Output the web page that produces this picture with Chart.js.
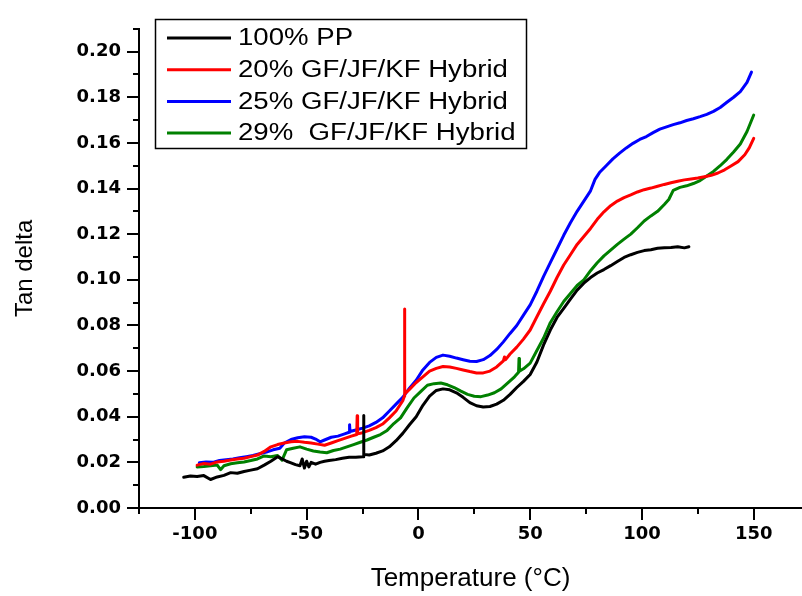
<!DOCTYPE html>
<html><head><meta charset="utf-8">
<script src="https://cdn.jsdelivr.net/npm/chart.js@4.4.1/dist/chart.umd.min.js"></script>
<style>html,body{margin:0;padding:0;background:#fff;}canvas{display:block;}</style>
</head><body>
<canvas id="c" width="802" height="596"></canvas>
<script>
const seriesLabels = ["100% PP", "20% GF/JF/KF Hybrid", "25% GF/JF/KF Hybrid", "29%  GF/JF/KF Hybrid"];
const seriesColors = ["#000000", "#ff0000", "#0000ff", "#008000"];

// [temperature °C, tan delta]
const pp = [[-105,0.0135],[-102,0.0140],[-99,0.0138],[-96,0.0142],[-93,0.0125],[-90,0.0136],[-87,0.0143],[-84,0.0155],[-81,0.0152],[-78,0.0160],[-75,0.0166],[-72,0.0172],[-69,0.0188],[-66,0.0205],[-63,0.0225],[-61,0.0215],[-59,0.0205],[-57,0.0198],[-55,0.0190],[-53,0.0185],[-52,0.0215],[-51,0.0175],[-50,0.0205],[-49,0.0180],[-48,0.0200],[-46,0.0192],[-44,0.0200],[-42,0.0205],[-40,0.0208],[-37,0.0212],[-34,0.0218],[-31,0.0222],[-28,0.0222],[-25,0.0225],[-24.6,0.0225],[-24.5,0.0405],[-24.4,0.0235],[-22,0.0232],[-19,0.0240],[-16,0.0250],[-13,0.0268],[-10,0.0295],[-7,0.0327],[-4,0.0365],[-1,0.0400],[2,0.0450],[5,0.0490],[8,0.0515],[11,0.0522],[14,0.0518],[17,0.0505],[20,0.0485],[23,0.0462],[26,0.0448],[29,0.0443],[32,0.0445],[35,0.0455],[38,0.0472],[41,0.0498],[44,0.0528],[47,0.0555],[50,0.0585],[53,0.0640],[56,0.0715],[59,0.0780],[62,0.0835],[65,0.0875],[68,0.0915],[71,0.0955],[74,0.0985],[77,0.1010],[80,0.1030],[83,0.1045],[86,0.1062],[89,0.1080],[92,0.1098],[95,0.1110],[98,0.1120],[101,0.1128],[104,0.1132],[107,0.1138],[110,0.1140],[113,0.1142],[116,0.1145],[119,0.1140],[121,0.1145]];

const hybrid20 = [[-99,0.0188],[-96,0.0195],[-93,0.0192],[-90,0.0202],[-87,0.0205],[-84,0.0210],[-81,0.0215],[-78,0.0218],[-75,0.0225],[-72,0.0232],[-69,0.0248],[-66,0.0268],[-63,0.0278],[-60,0.0285],[-57,0.0290],[-54,0.0292],[-51,0.0288],[-48,0.0285],[-45,0.0280],[-42,0.0275],[-39,0.0285],[-36,0.0295],[-33,0.0305],[-30,0.0315],[-27.6,0.0322],[-27.4,0.0404],[-27.2,0.0325],[-25,0.0330],[-22,0.0340],[-19,0.0352],[-16,0.0368],[-13,0.0395],[-10,0.0425],[-7,0.0470],[-6.3,0.0490],[-6.2,0.0872],[-6.1,0.0500],[-4,0.0520],[-1,0.0550],[2,0.0575],[5,0.0600],[8,0.0612],[11,0.0620],[14,0.0618],[17,0.0612],[20,0.0605],[23,0.0598],[26,0.0592],[29,0.0592],[32,0.0600],[35,0.0618],[38,0.0645],[38.5,0.0662],[39,0.0650],[41,0.0675],[44,0.0705],[47,0.0740],[50,0.0780],[53,0.0838],[56,0.0895],[59,0.0950],[62,0.1010],[65,0.1065],[68,0.1110],[71,0.1155],[74,0.1190],[77,0.1225],[80,0.1265],[83,0.1298],[86,0.1325],[89,0.1345],[92,0.1360],[95,0.1372],[98,0.1385],[101,0.1395],[104,0.1402],[107,0.1410],[110,0.1418],[113,0.1425],[116,0.1432],[119,0.1438],[122,0.1442],[125,0.1446],[128,0.1452],[131,0.1458],[134,0.1468],[137,0.1482],[140,0.1500],[143,0.1518],[146,0.1548],[148,0.1578],[150,0.1620]];

const hybrid25 = [[-98,0.0198],[-95,0.0202],[-92,0.0200],[-89,0.0208],[-86,0.0212],[-83,0.0215],[-80,0.0220],[-77,0.0225],[-74,0.0230],[-71,0.0238],[-68,0.0245],[-65,0.0255],[-62,0.0262],[-60,0.0285],[-57,0.0300],[-54,0.0308],[-51,0.0312],[-48,0.0310],[-46,0.0302],[-44,0.0290],[-42,0.0298],[-39,0.0310],[-36,0.0315],[-33,0.0325],[-31,0.0332],[-30.8,0.0365],[-30.6,0.0335],[-28,0.0342],[-25,0.0350],[-22,0.0360],[-19,0.0375],[-16,0.0395],[-13,0.0425],[-10,0.0455],[-7,0.0485],[-4,0.0525],[-1,0.0560],[2,0.0605],[5,0.0638],[8,0.0660],[11,0.0670],[14,0.0665],[17,0.0657],[20,0.0650],[23,0.0643],[26,0.0642],[29,0.0650],[32,0.0668],[35,0.0695],[38,0.0728],[41,0.0765],[44,0.0800],[47,0.0845],[50,0.0890],[53,0.0950],[56,0.1015],[59,0.1075],[62,0.1135],[65,0.1195],[68,0.1250],[71,0.1300],[74,0.1345],[77,0.1390],[79,0.1440],[81,0.1470],[84,0.1500],[87,0.1530],[90,0.1555],[93,0.1578],[96,0.1598],[99,0.1615],[102,0.1628],[105,0.1645],[108,0.1660],[111,0.1670],[114,0.1680],[117,0.1688],[120,0.1698],[123,0.1706],[126,0.1715],[129,0.1725],[132,0.1738],[135,0.1755],[138,0.1778],[141,0.1800],[144,0.1825],[147,0.1865],[149,0.1910]];

const hybrid29 = [[-99,0.0180],[-96,0.0182],[-93,0.0185],[-90,0.0188],[-88.5,0.0168],[-87,0.0185],[-84,0.0194],[-81,0.0198],[-78,0.0202],[-75,0.0208],[-72,0.0215],[-69,0.0228],[-66,0.0225],[-63,0.0230],[-61,0.0210],[-59,0.0255],[-56,0.0262],[-53,0.0268],[-50,0.0258],[-47,0.0250],[-44,0.0245],[-41,0.0242],[-38,0.0252],[-35,0.0258],[-32,0.0268],[-29,0.0278],[-26,0.0288],[-23,0.0298],[-20,0.0310],[-17,0.0322],[-14,0.0340],[-11,0.0370],[-8,0.0395],[-5,0.0440],[-2,0.0482],[1,0.0510],[4,0.0538],[7,0.0545],[10,0.0548],[13,0.0540],[16,0.0528],[19,0.0512],[22,0.0498],[25,0.0490],[28,0.0488],[31,0.0495],[34,0.0505],[37,0.0522],[40,0.0548],[43,0.0575],[44.8,0.0595],[45,0.0655],[45.2,0.0600],[47,0.0610],[50,0.0635],[53,0.0690],[56,0.0745],[59,0.0812],[62,0.0860],[65,0.0905],[68,0.0940],[71,0.0975],[74,0.1000],[77,0.1040],[80,0.1075],[83,0.1105],[86,0.1130],[89,0.1155],[92,0.1178],[95,0.1200],[98,0.1228],[101,0.1258],[104,0.1280],[107,0.1300],[110,0.1330],[112,0.1352],[114,0.1392],[117,0.1405],[120,0.1412],[123,0.1422],[126,0.1435],[129,0.1455],[132,0.1475],[135,0.1500],[138,0.1528],[141,0.1560],[144,0.1595],[147,0.1650],[150,0.1722]];

const seriesData = [pp, hybrid20, hybrid25, hybrid29];

const xTickValues = [-125,-100,-75,-50,-25,0,25,50,75,100,125,150];
const xTickLabels = ["","-100","","-50","","0","","50","","100","","150"];
const yTickValues = [0,0.01,0.02,0.03,0.04,0.05,0.06,0.07,0.08,0.09,0.10,0.11,0.12,0.13,0.14,0.15,0.16,0.17,0.18,0.19,0.20,0.21];
const yTickLabels = ["0.00","","0.02","","0.04","","0.06","","0.08","","0.10","","0.12","","0.14","","0.16","","0.18","","0.20",""];

const xTitle = "Temperature (\u00B0C)";
const yTitle = "Tan delta";

const tickMarks = {
  id: 'tickMarks',
  afterDraw(chart) {
    const ctx = chart.ctx, xs = chart.scales.x, ys = chart.scales.y, a = chart.chartArea;
    ctx.save();
    ctx.strokeStyle = '#000';
    ctx.lineWidth = 2;
    yTickValues.forEach((v, i) => {
      const py = Math.round(ys.getPixelForValue(v));
      const len = yTickLabels[i] ? 12 : 6;
      ctx.beginPath(); ctx.moveTo(a.left - len, py); ctx.lineTo(a.left, py); ctx.stroke();
    });
    xTickValues.forEach((v, i) => {
      const px = Math.round(xs.getPixelForValue(v));
      const len = xTickLabels[i] ? 12 : 6;
      ctx.beginPath(); ctx.moveTo(px, a.bottom); ctx.lineTo(px, a.bottom + len); ctx.stroke();
    });
    ctx.restore();
  }
};

const legendBox = {
  id: 'legendBox',
  afterDraw(chart) {
    const ctx = chart.ctx;
    ctx.save();
    ctx.fillStyle = '#fff';
    ctx.fillRect(155, 19, 371, 129);
    ctx.strokeStyle = '#000';
    ctx.lineWidth = 1.5;
    ctx.strokeRect(155.5, 19.5, 371, 129);
    chart.data.datasets.forEach((ds, i) => {
      const y = 38 + i * 31.7;
      ctx.strokeStyle = ds.borderColor;
      ctx.lineWidth = 3;
      ctx.beginPath(); ctx.moveTo(167, y); ctx.lineTo(231, y); ctx.stroke();
      ctx.fillStyle = '#000';
      ctx.font = '23px "Liberation Sans", Arial, sans-serif';
      ctx.textBaseline = 'middle';
      ctx.save();
      ctx.translate(238, y + 1);
      ctx.scale(1.2, 1);
      ctx.fillText(ds.label, 0, 0);
      ctx.restore();
    });
    ctx.restore();
  }
};

const datasets = seriesData.map((s, i) => ({
  label: seriesLabels[i],
  data: s.map(p => ({x: p[0], y: p[1]})),
  borderColor: seriesColors[i],
  backgroundColor: seriesColors[i],
  borderWidth: 3,
  pointRadius: 0,
  fill: false,
  tension: 0
}));

new Chart(document.getElementById('c').getContext('2d'), {
  type: 'line',
  data: { datasets },
  options: {
    responsive: false,
    animation: false,
    devicePixelRatio: 1,
    layout: { padding: { top: 7, right: 0, left: 0, bottom: 0 } },
    elements: { line: { borderJoinStyle: 'round', borderCapStyle: 'round' } },
    plugins: { legend: { display: false }, tooltip: { enabled: false } },
    scales: {
      x: {
        type: 'linear', min: -125, max: 171.6,
        afterBuildTicks: s => { s.ticks = xTickValues.map(v => ({ value: v })); },
        afterFit: s => { s.height = 88; },
        grid: { display: false, drawTicks: false },
        border: { display: true, color: '#000', width: 2 },
        ticks: {
          autoSkip: false, maxRotation: 0, padding: 16, color: '#000',
          font: { family: 'DejaVu Sans', weight: 'bold', size: 18 },
          callback: (v, i) => xTickLabels[i]
        },
        title: { display: true, text: xTitle, color: '#000',
          font: { family: 'Liberation Sans', size: 26 }, padding: 2 }
      },
      y: {
        type: 'linear', min: 0, max: 0.21,
        afterBuildTicks: s => { s.ticks = yTickValues.map(v => ({ value: v })); },
        afterFit: s => { s.width = 139; },
        grid: { display: false, drawTicks: false },
        border: { display: true, color: '#000', width: 2 },
        ticks: {
          autoSkip: false, padding: 18, color: '#000',
          font: { family: 'DejaVu Sans', weight: 'bold', size: 18 },
          callback: (v, i) => yTickLabels[i]
        },
        title: { display: true, text: yTitle, color: '#000',
          font: { family: 'Liberation Sans', size: 24 }, padding: 11 }
      }
    }
  },
  plugins: [tickMarks, legendBox]
});
</script>
</body></html>
